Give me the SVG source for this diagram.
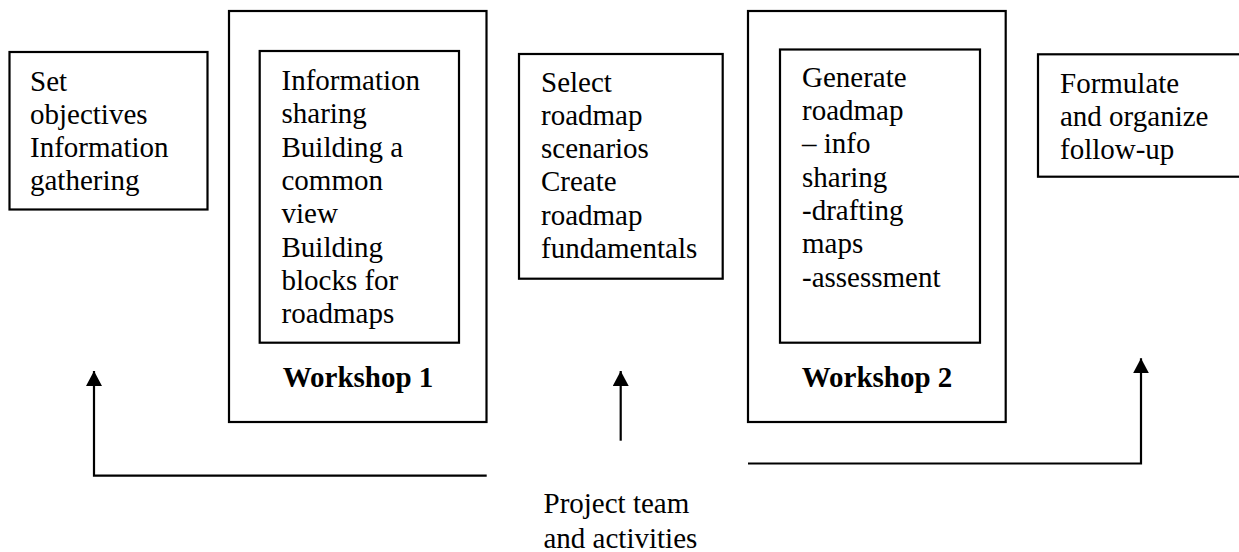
<svg xmlns="http://www.w3.org/2000/svg" width="1239" height="552" viewBox="0 0 1239 552">
<style>
.box{fill:none;stroke:#000;stroke-width:2.2}
.t{font-family:"Liberation Serif","Times New Roman",serif;font-size:29px;fill:#000}
.b{font-family:"Liberation Serif","Times New Roman",serif;font-size:29px;font-weight:bold;fill:#000;text-anchor:middle}
.ln{fill:none;stroke:#000;stroke-width:2.2}
</style>
<defs>
<marker id="ah" markerUnits="userSpaceOnUse" markerWidth="16" markerHeight="16" refX="15" refY="8" orient="auto">
<path d="M0,0 L15,8 L0,16 Z" fill="#000"/>
</marker>
</defs>
<rect width="1239" height="552" fill="#fff"/>
<g id="n1">
<rect class="box" x="9.5" y="52" width="198" height="157.5"/>
<text class="t" x="30" y="90.5">Set</text>
<text class="t" x="30" y="123.8">objectives</text>
<text class="t" x="30" y="157.1">Information</text>
<text class="t" x="30" y="190.4">gathering</text>
</g>
<g id="workshop1">
<rect class="box" x="229" y="11" width="257.5" height="411"/>
<rect class="box" x="259.7" y="51" width="199.3" height="291.7"/>
<text class="t" x="281.5" y="90">Information</text>
<text class="t" x="281.5" y="123.3">sharing</text>
<text class="t" x="281.5" y="156.6">Building a</text>
<text class="t" x="281.5" y="189.9">common</text>
<text class="t" x="281.5" y="223.2">view</text>
<text class="t" x="281.5" y="256.5">Building</text>
<text class="t" x="281.5" y="289.8">blocks for</text>
<text class="t" x="281.5" y="323.1">roadmaps</text>
<text class="b" x="358" y="387">Workshop 1</text>
</g>
<g id="n3">
<rect class="box" x="519" y="54" width="203.7" height="224.7"/>
<text class="t" x="541" y="91.5">Select</text>
<text class="t" x="541" y="124.8">roadmap</text>
<text class="t" x="541" y="158.1">scenarios</text>
<text class="t" x="541" y="191.4">Create</text>
<text class="t" x="541" y="224.7">roadmap</text>
<text class="t" x="541" y="258">fundamentals</text>
</g>
<g id="workshop2">
<rect class="box" x="748" y="11" width="257.7" height="411"/>
<rect class="box" x="780" y="49.5" width="200" height="293.2"/>
<text class="t" x="802" y="86.7">Generate</text>
<text class="t" x="802" y="120">roadmap</text>
<text class="t" x="802" y="153.3">– info</text>
<text class="t" x="802" y="186.6">sharing</text>
<text class="t" x="802" y="219.9">-drafting</text>
<text class="t" x="802" y="253.2">maps</text>
<text class="t" x="802" y="286.5">-assessment</text>
<text class="b" x="877" y="387">Workshop 2</text>
</g>
<g id="n5">
<rect class="box" x="1038" y="54.3" width="210" height="122.4"/>
<text class="t" x="1060" y="92.7">Formulate</text>
<text class="t" x="1060" y="126">and organize</text>
<text class="t" x="1060" y="159.3">follow-up</text>
</g>
<g id="label">
<text class="t" x="543.5" y="513.3">Project team</text>
<text class="t" x="543.5" y="547.5">and activities</text>
</g>
<g id="connectors">
<path class="ln" d="M486.7,475.7 L94,475.7 L94,371" marker-end="url(#ah)"/>
<path class="ln" d="M620.7,440.7 L620.7,371" marker-end="url(#ah)"/>
<path class="ln" d="M748,463.5 L1141,463.5 L1141,358.3" marker-end="url(#ah)"/>
</g>
</svg>
